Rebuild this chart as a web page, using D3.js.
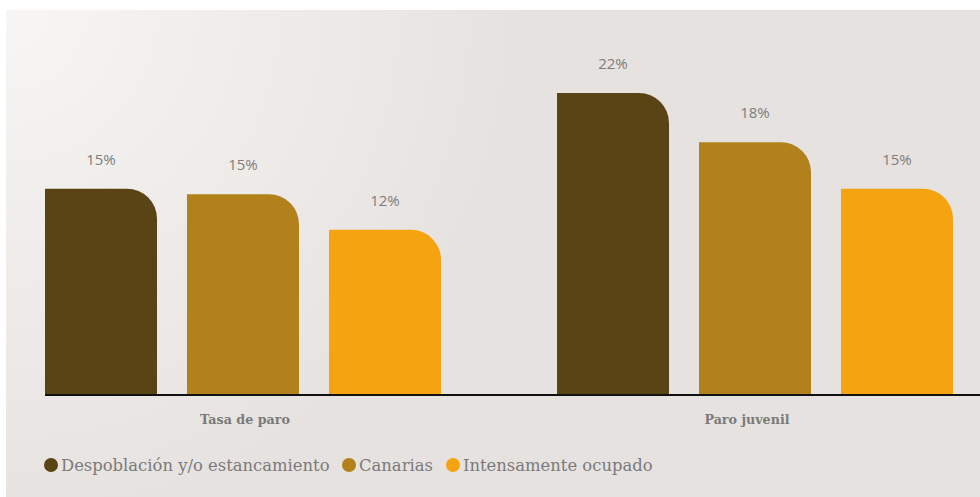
<!DOCTYPE html>
<html><head><meta charset="utf-8">
<script src="https://cdn.jsdelivr.net/npm/d3@7"></script>
<style>html,body{margin:0;padding:0;background:#fff;}svg{display:block;}</style>
</head><body>
<svg id="chart" width="980" height="497"></svg>
<script>
const categories = ["Tasa de paro", "Paro juvenil"];
const seriesNames = ["Despoblación y/o estancamiento", "Canarias", "Intensamente ocupado"];
const seriesColors = ["#5a4415", "#b3811b", "#f5a311"];
const despoblacion = [15.0, 22.0];
const canarias = [14.6, 18.4];
const intensamente = [12.0, 15.0];
const valueLabels = [["15%", "22%"], ["15%", "18%"], ["12%", "15%"]];
const seriesValues = [despoblacion, canarias, intensamente];

const svg = d3.select("#chart");
const W = 980, H = 497;

const defs = svg.append("defs");
const grad = defs.append("radialGradient").attr("id", "bg")
  .attr("gradientUnits", "userSpaceOnUse")
  .attr("cx", 6).attr("cy", 10).attr("r", 520);
grad.append("stop").attr("offset", "0%").attr("stop-color", "#f7f6f4");
grad.append("stop").attr("offset", "100%").attr("stop-color", "#e6e2df");

svg.append("rect").attr("x", 6).attr("y", 10).attr("width", W - 6).attr("height", H - 10)
  .attr("fill", "url(#bg)");

const baseY = 394;
const y = d3.scaleLinear().domain([0, 25]).range([baseY, baseY - 25 * 13.68]);
const x0 = d3.scaleBand().domain(categories).range([45, 953]).paddingInner(116 / 512).paddingOuter(0);
const x1 = d3.scaleBand().domain(d3.range(3)).range([0, x0.bandwidth()]).paddingInner(30 / 142).paddingOuter(0);

const data = [];
categories.forEach((c, ci) => {
  seriesValues.forEach((s, si) => {
    data.push({cat: c, si, v: s[ci], label: valueLabels[si][ci]});
  });
});

function barPath(x, yTop, w, yBottom, r) {
  const rr = Math.min(r, w, yBottom - yTop);
  return `M${x},${yBottom}V${yTop}H${x + w - rr}A${rr},${rr} 0 0 1 ${x + w},${yTop + rr}V${yBottom}Z`;
}

const g = svg.append("g");
g.selectAll("path.bar").data(data).join("path").attr("class", "bar")
  .attr("d", d => barPath(x0(d.cat) + x1(d.si), y(d.v), x1.bandwidth(), y(0), 30))
  .attr("fill", d => seriesColors[d.si]);

g.selectAll("text.val").data(data).join("text").attr("class", "val")
  .attr("x", d => x0(d.cat) + x1(d.si) + x1.bandwidth() / 2)
  .attr("y", d => y(d.v) - 24)
  .attr("text-anchor", "middle")
  .attr("font-family", "'Open Sans', sans-serif")
  .attr("font-size", 15)
  .attr("fill", "#7d7d7d")
  .text(d => d.label);

// axis line
svg.append("line").attr("x1", 45).attr("x2", W).attr("y1", baseY + 1).attr("y2", baseY + 1)
  .attr("stroke", "#111").attr("stroke-width", 2);

// category labels
const labelOffset = [2, -8];
svg.selectAll("text.cat").data(categories).join("text").attr("class", "cat")
  .attr("x", (d, i) => x0(d) + x0.bandwidth() / 2 + labelOffset[i])
  .attr("y", 424)
  .attr("text-anchor", "middle")
  .attr("font-family", "'DejaVu Serif', serif")
  .attr("font-weight", "bold")
  .attr("font-size", 12.7)
  .attr("fill", "#7a7a7a")
  .text(d => d);

// legend
const legendX = [51, 349, 453];
const lg = svg.append("g");
seriesNames.forEach((n, i) => {
  lg.append("circle").attr("cx", legendX[i]).attr("cy", 465).attr("r", 7).attr("fill", seriesColors[i]);
  lg.append("text").attr("x", legendX[i] + 10).attr("y", 471)
    .attr("font-family", "'DejaVu Serif', serif")
    .attr("font-size", 16.4)
    .attr("fill", "#7a7a7a")
    .text(n);
});
</script>
</body></html>
